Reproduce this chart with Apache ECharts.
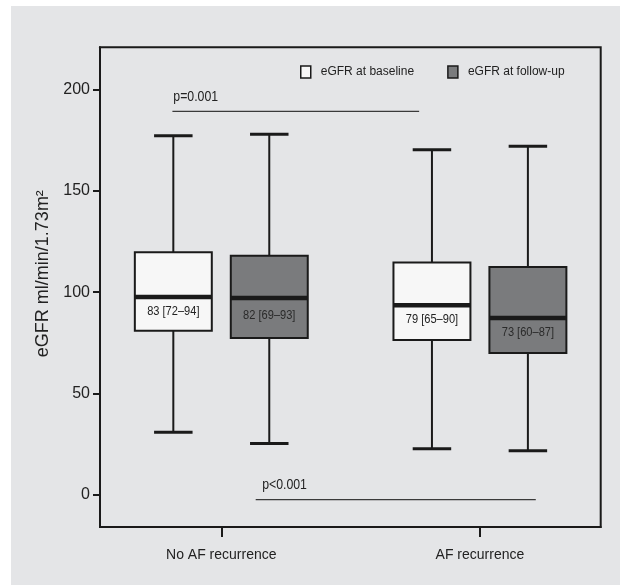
<!DOCTYPE html>
<html><head><meta charset="utf-8">
<script src="https://cdn.jsdelivr.net/npm/echarts@6/dist/echarts.min.js"></script>
<style>
html,body{margin:0;padding:0;background:#fff;width:620px;height:585px;overflow:hidden}
#c{position:absolute;left:11px;top:6px;width:609px;height:579px;}
</style></head><body><div id="c"></div>
<script>
// ---- data ----
const categories = ['No AF recurrence', 'AF recurrence'];
const categoryIndex = [0, 1];
const seriesNames = ['eGFR at baseline', 'eGFR at follow-up'];
// [min, Q1, median, Q3, max] per category
const baseline = [[30.8, 81.0, 97.6, 119.7, 177.3], [22.6, 76.4, 93.5, 114.7, 170.4]];
const followUp = [[25.2, 77.4, 97.1, 118.0, 178.1], [21.7, 70.0, 87.3, 112.4, 172.1]];
const baselineLabels = ['83 [72–94]', '79 [65–90]'];
const followUpLabels = ['82 [69–93]', '73 [60–87]'];
const yTicks = [0, 50, 100, 150, 200];
const pTexts = ['p=0.001', 'p<0.001'];
const pLevels = [189.3, -2.5];

// ---- layout (in units of category spacing) ----
const BOX_OFFSET = [-0.1855, 0.1855];
const BOX_W = 0.2976;
const P_SPAN = [[-0.189, 0.765], [0.133, 1.216]];
const P_TEXT_X = [-0.1855, 0.158];
const SQUEEZE = 0.82;

const FONT = "'Liberation Sans', Arial, sans-serif";
const INK = '#1a1a1a';
const FILLS = ['#f7f7f7', '#7a7b7d'];
const LABEL_COLORS = ['#222', '#2a2a2a'];

function boxSeries(sIdx, data, labels) {
  return {
    type: 'custom',
    name: seriesNames[sIdx],
    silent: true,
    itemStyle: { color: FILLS[sIdx], borderColor: INK, borderWidth: 1.5 },
    data: data.map((d, i) => [categoryIndex[i]].concat(d)),
    renderItem: function (params, api) {
      const ci = api.value(0);
      const unit = api.size([1, 0])[0];
      const cx = api.coord([ci, 0])[0] + BOX_OFFSET[sIdx] * unit;
      const w = BOX_W * unit;
      const yv = k => api.coord([ci, api.value(k)])[1];
      const yMin = yv(1), yQ1 = yv(2), yMed = yv(3), yQ3 = yv(4), yMax = yv(5);
      const cap = w / 2;
      const ln = (x1, y1, x2, y2, lw) => ({ type: 'line', shape: { x1, y1, x2, y2 }, style: { stroke: INK, lineWidth: lw } });
      return {
        type: 'group',
        children: [
          ln(cx, yMax, cx, yQ3, 2),
          ln(cx, yQ1, cx, yMin, 2),
          ln(cx - cap / 2, yMax, cx + cap / 2, yMax, 3),
          ln(cx - cap / 2, yMin, cx + cap / 2, yMin, 3),
          { type: 'rect', shape: { x: cx - w / 2, y: yQ3, width: w, height: yQ1 - yQ3 },
            style: { fill: FILLS[sIdx], stroke: INK, lineWidth: 2 } },
          ln(cx - w / 2, yMed, cx + w / 2, yMed, 4.5),
          { type: 'text', x: cx, y: (yMed + yQ1) / 2 - 3, scaleX: SQUEEZE,
            style: { text: labels[params.dataIndex], x: 0, y: 0,
            align: 'center', verticalAlign: 'middle', fill: LABEL_COLORS[sIdx],
            fontFamily: FONT, fontSize: 13.5 } }
        ]
      };
    }
  };
}

const pSeries = {
  type: 'custom',
  name: 'p',
  silent: true,
  data: pLevels.map((v, i) => [categoryIndex[0], v]),
  renderItem: function (params, api) {
    const i = params.dataIndex;
    const unit = api.size([1, 0])[0];
    const x0 = api.coord([api.value(0), 0])[0];
    const y = api.coord([api.value(0), api.value(1)])[1];
    const xa = x0 + P_SPAN[i][0] * unit, xb = x0 + P_SPAN[i][1] * unit;
    return {
      type: 'group',
      children: [
        { type: 'line', shape: { x1: xa, y1: y, x2: xb, y2: y }, style: { stroke: '#3a3a3a', lineWidth: 1.3 } },
        { type: 'text', x: x0 + P_TEXT_X[i] * unit, y: y - 15, scaleX: SQUEEZE,
          style: { text: pTexts[i], x: 0, y: 0,
          align: 'left', verticalAlign: 'middle', fill: '#222', fontFamily: FONT, fontSize: 15 } }
      ]
    };
  }
};

const chart = echarts.init(document.getElementById('c'));
chart.setOption({
  animation: false,
  backgroundColor: '#e4e5e7',
  grid: { left: 89, top: 41.3, right: 19.3, bottom: 58, show: true, borderColor: INK, borderWidth: 2, backgroundColor: 'transparent' },
  legend: {
    left: 289, top: 59, padding: 0, itemWidth: 10, itemHeight: 12, itemGap: 33, icon: 'rect', selectedMode: false,
    textStyle: { fontFamily: FONT, fontSize: 12, lineHeight: 14, color: '#222', padding: [0, 0, 0, 5] },
    data: [
      { name: seriesNames[0], itemStyle: { color: FILLS[0], borderColor: INK, borderWidth: 1.5 } },
      { name: seriesNames[1], itemStyle: { color: FILLS[1], borderColor: INK, borderWidth: 1.5 } }
    ]
  },
  xAxis: {
    type: 'value', min: -0.469, max: 1.467,
    axisLine: { onZero: false, lineStyle: { color: INK, width: 2 } },
    axisTick: { show: true, length: 10, customValues: categoryIndex, lineStyle: { color: INK, width: 2 } },
    axisLabel: { customValues: categoryIndex, formatter: v => categories[Math.round(v)], margin: 21, fontFamily: FONT, fontSize: 14, color: '#222' },
    splitLine: { show: false }
  },
  yAxis: {
    type: 'value', min: -16, max: 221,
    axisLine: { show: true, onZero: false, lineStyle: { color: INK, width: 2 } },
    axisTick: { show: true, length: 7, customValues: yTicks, lineStyle: { color: INK, width: 2 } },
    axisLabel: { customValues: yTicks, margin: 10, fontFamily: FONT, fontSize: 16, color: '#222' },
    splitLine: { show: false },
    name: 'eGFR ml/min/1.73m²', nameLocation: 'middle', nameGap: 30,
    nameTextStyle: { fontFamily: FONT, fontSize: 18, color: '#222', padding: [0, 0, 0, 27] }
  },
  series: [boxSeries(0, baseline, baselineLabels), boxSeries(1, followUp, followUpLabels), pSeries]
});
</script></body></html>
